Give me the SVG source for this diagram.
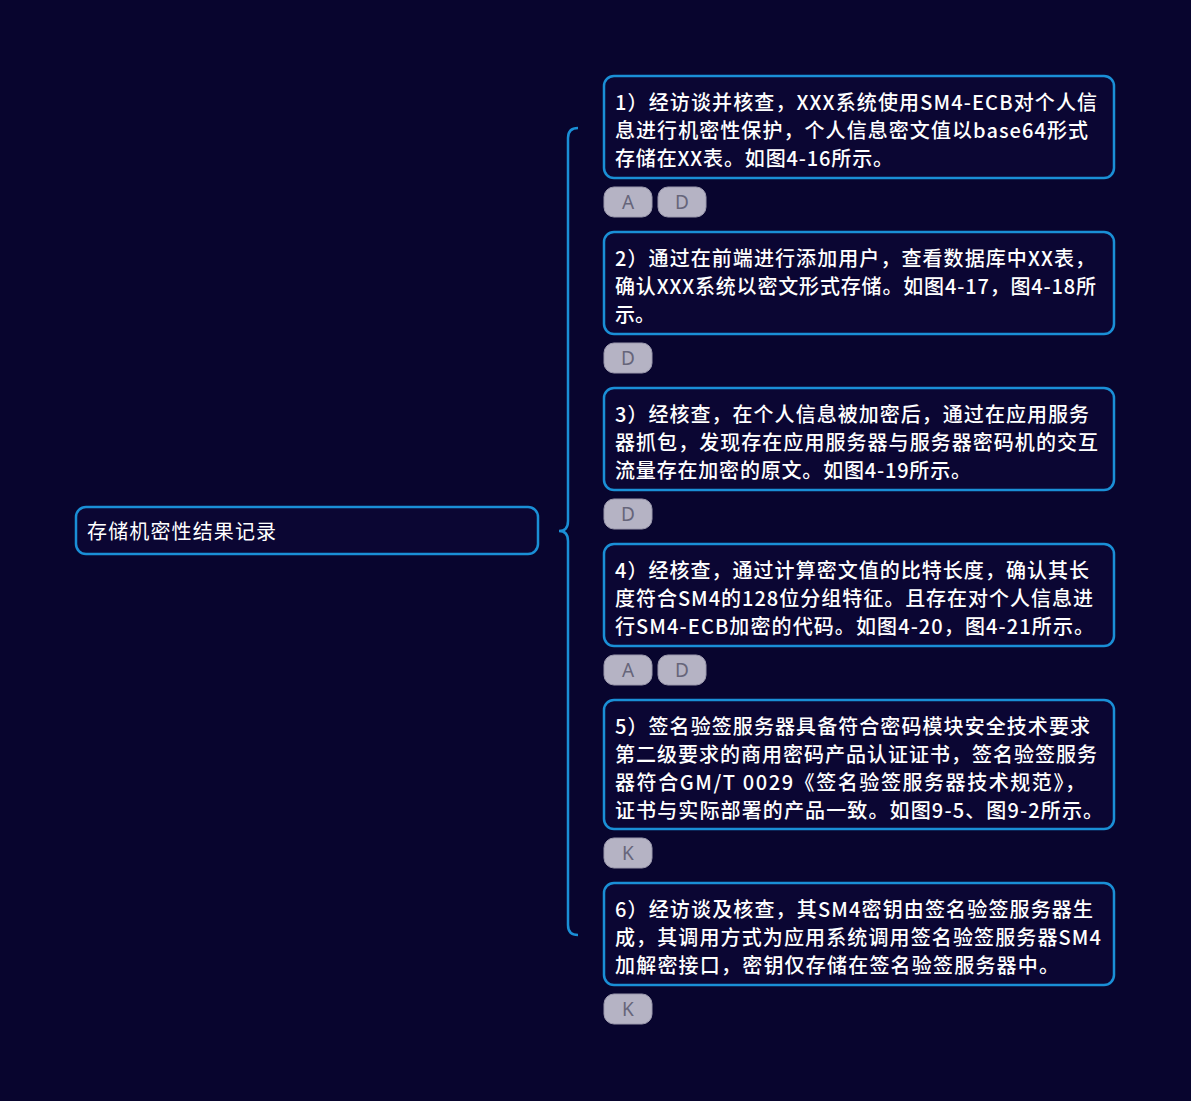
<svg xmlns="http://www.w3.org/2000/svg" width="1191" height="1101" viewBox="0 0 1191 1101">
<style>
.bg{fill:#08052e}
.node{fill:#0b0633;stroke:#1a8fd6;stroke-width:2.5}
.t{font-family:"Noto Sans CJK SC","Noto Sans",sans-serif;font-size:20px;font-weight:500;fill:#ffffff}
.r{font-weight:400}
.tag{fill:#b5b3c4;stroke:#9a98ac;stroke-width:1}
.tt{font-family:"Noto Sans","DejaVu Sans",sans-serif;font-size:19px;fill:#66657a;text-anchor:middle}
.conn{fill:none;stroke:#1a8fd6;stroke-width:2.5}
</style>
<rect class="bg" x="0" y="0" width="1191" height="1101"/>
<g id="connectors">
<path class="conn" d="M578,128 Q568,128 568,138 L568,521 Q568,531 559,531 Q568,531 568,541 L568,925 Q568,935 578,935"/>
</g>
<g id="root">
<rect class="node" x="76" y="507" width="462" height="47" rx="10"/>
<text class="t r" x="87" y="539" textLength="189" lengthAdjust="spacing">存储机密性结果记录</text>
</g>
<g id="n1">
<rect class="node" x="604" y="76" width="510" height="102" rx="10"/>
<text class="t" x="615" y="110" textLength="482" lengthAdjust="spacing">1）经访谈并核查，XXX系统使用SM4-ECB对个人信</text>
<text class="t" x="615" y="138" textLength="473" lengthAdjust="spacing">息进行机密性保护，个人信息密文值以base64形式</text>
<text class="t" x="615" y="166" textLength="278" lengthAdjust="spacing">存储在XX表。如图4-16所示。</text>
</g>
<g id="tags1">
<rect class="tag" x="604" y="187" width="48" height="30" rx="10"/><text class="tt" x="628" y="209">A</text>
<rect class="tag" x="658" y="187" width="48" height="30" rx="10"/><text class="tt" x="682" y="209">D</text>
</g>
<g id="n2">
<rect class="node" x="604" y="232" width="510" height="102" rx="10"/>
<text class="t" x="615" y="266" textLength="480" lengthAdjust="spacing">2）通过在前端进行添加用户，查看数据库中XX表，</text>
<text class="t" x="615" y="294" textLength="481" lengthAdjust="spacing">确认XXX系统以密文形式存储。如图4-17，图4-18所</text>
<text class="t" x="615" y="322">示。</text>
</g>
<g id="tags2">
<rect class="tag" x="604" y="343" width="48" height="30" rx="10"/><text class="tt" x="628" y="365">D</text>
</g>
<g id="n3">
<rect class="node" x="604" y="388" width="510" height="102" rx="10"/>
<text class="t" x="615" y="422" textLength="474" lengthAdjust="spacing">3）经核查，在个人信息被加密后，通过在应用服务</text>
<text class="t" x="615" y="450" textLength="483" lengthAdjust="spacing">器抓包，发现存在应用服务器与服务器密码机的交互</text>
<text class="t" x="615" y="478" textLength="356" lengthAdjust="spacing">流量存在加密的原文。如图4-19所示。</text>
</g>
<g id="tags3">
<rect class="tag" x="604" y="499" width="48" height="30" rx="10"/><text class="tt" x="628" y="521">D</text>
</g>
<g id="n4">
<rect class="node" x="604" y="544" width="510" height="102" rx="10"/>
<text class="t" x="615" y="578" textLength="474" lengthAdjust="spacing">4）经核查，通过计算密文值的比特长度，确认其长</text>
<text class="t" x="615" y="606" textLength="478" lengthAdjust="spacing">度符合SM4的128位分组特征。且存在对个人信息进</text>
<text class="t" x="615" y="634" textLength="479" lengthAdjust="spacing">行SM4-ECB加密的代码。如图4-20，图4-21所示。</text>
</g>
<g id="tags4">
<rect class="tag" x="604" y="655" width="48" height="30" rx="10"/><text class="tt" x="628" y="677">A</text>
<rect class="tag" x="658" y="655" width="48" height="30" rx="10"/><text class="tt" x="682" y="677">D</text>
</g>
<g id="n5">
<rect class="node" x="604" y="700" width="510" height="129" rx="10"/>
<text class="t" x="615" y="734" textLength="475" lengthAdjust="spacing">5）签名验签服务器具备符合密码模块安全技术要求</text>
<text class="t" x="615" y="762" textLength="482" lengthAdjust="spacing">第二级要求的商用密码产品认证证书，签名验签服务</text>
<text class="t" x="615" y="790" textLength="470" lengthAdjust="spacing">器符合GM/T 0029《签名验签服务器技术规范》，</text>
<text class="t" x="615" y="818" textLength="488" lengthAdjust="spacing">证书与实际部署的产品一致。如图9-5、图9-2所示。</text>
</g>
<g id="tags5">
<rect class="tag" x="604" y="838" width="48" height="30" rx="10"/><text class="tt" x="628" y="860">K</text>
</g>
<g id="n6">
<rect class="node" x="604" y="883" width="510" height="102" rx="10"/>
<text class="t" x="615" y="917" textLength="478" lengthAdjust="spacing">6）经访谈及核查，其SM4密钥由签名验签服务器生</text>
<text class="t" x="615" y="945" textLength="486" lengthAdjust="spacing">成，其调用方式为应用系统调用签名验签服务器SM4</text>
<text class="t" x="615" y="973" textLength="444" lengthAdjust="spacing">加解密接口，密钥仅存储在签名验签服务器中。</text>
</g>
<g id="tags6">
<rect class="tag" x="604" y="994" width="48" height="30" rx="10"/><text class="tt" x="628" y="1016">K</text>
</g>
</svg>
